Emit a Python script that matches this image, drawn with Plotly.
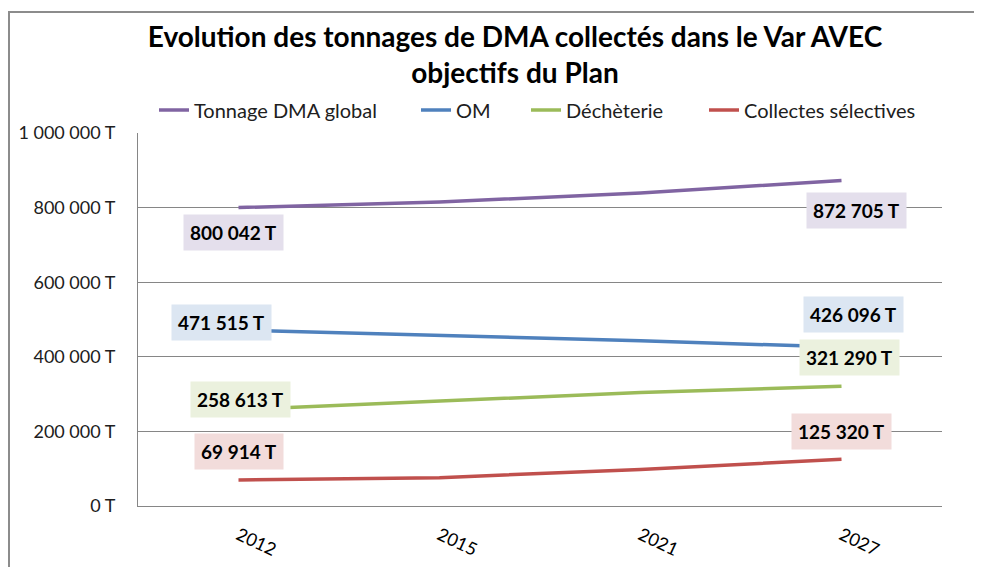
import plotly.graph_objects as go

years = ["2012", "2015", "2021", "2027"]
series_names = ["Tonnage DMA global", "OM", "Déchèterie", "Collectes sélectives"]
global_vals = [800042, 815000, 839000, 872705]
om_vals = [471515, 457000, 443000, 426096]
dech_vals = [258613, 281000, 304000, 321290]
cs_vals = [69914, 76000, 98000, 125320]
y_tickvals = [0, 200000, 400000, 600000, 800000, 1000000]
y_ticktext = ["0 T", "200 000 T", "400 000 T", "600 000 T", "800 000 T", "1 000 000 T"]

colors = ["#8064a2", "#4f81bd", "#9bbb59", "#c0504d"]
label_bg = ["#e4dfec", "#dce6f2", "#ebf1de", "#f2dcdb"]
all_vals = [global_vals, om_vals, dech_vals, cs_vals]

FONT = "Lato, 'Open Sans', sans-serif"

# page body has an 8px margin: work in page pixels and shift
OFF = 8
W, H = 982 - 2 * OFF, 575 - 2 * OFF
PL, PR, PT, PB = 138 - OFF, 942 - OFF, 133 - OFF, 506 - OFF   # plot area in figure px
PW, PH = PR - PL, PB - PT


def px_x(x):  # page x -> paper
    return (x - OFF - PL) / PW


def px_y(y):  # page y -> paper
    return (PB - (y - OFF)) / PH


legend_names = ["legend", "legend2", "legend3", "legend4"]
legend_x_page = [154, 416, 526, 704]

fig = go.Figure()
for name, vals, c, lg in zip(series_names, all_vals, colors, legend_names):
    fig.add_trace(go.Scatter(x=years, y=vals, mode="lines", name=name, legend=lg,
                             showlegend=True, line=dict(color=c, width=3.5)))


def fmt(v):
    return f"{v:,}".replace(",", " ") + " T"


first_shift = [(-5, -25), (-17, 8), (2, 10), (0, 28)]
last_shift = [(15, -30), (12, 33), (8, 29), (0, 28)]
annotations = []
for i, vals in enumerate(all_vals):
    for idx, sh in ((0, first_shift[i]), (3, last_shift[i])):
        annotations.append(dict(x=idx, y=vals[idx], xref="x", yref="y",
                                text="<b>" + fmt(vals[idx]) + "</b>", showarrow=False,
                                xanchor="center", yanchor="middle",
                                xshift=sh[0], yshift=sh[1], bgcolor=label_bg[i],
                                borderpad=6, font=dict(family=FONT, size=19, color="black")))

legend_layouts = {}
for lg, xp in zip(legend_names, legend_x_page):
    legend_layouts[lg] = dict(orientation="h", xref="paper", x=px_x(xp), xanchor="left",
                              yref="paper", y=px_y(110), yanchor="middle",
                              font=dict(family=FONT, size=20, color="#202020"),
                              bgcolor="rgba(0,0,0,0)", borderwidth=0)

fig.update_layout(
    width=W, height=H, showlegend=True,
    margin=dict(l=PL, r=W - PR, t=PT, b=H - PB, pad=0, autoexpand=False),
    paper_bgcolor="white", plot_bgcolor="white",
    font=dict(family=FONT, color="black"),
    title=dict(text="<b>Evolution des tonnages de DMA collectés dans le Var AVEC<br>objectifs du Plan</b>",
               xref="container", x=(515 - OFF) / W, xanchor="center", yref="container",
               y=1 - 39 / H, yanchor="top",
               font=dict(family=FONT, size=28, color="black")),
    xaxis=dict(type="category", range=[-0.5, 3.5], showgrid=False, showline=True,
               linecolor="#868686", linewidth=1, ticks="", tickangle=25, automargin=False,
               tickfont=dict(family=FONT, size=18, color="black"), ticklabelstandoff=11),
    yaxis=dict(range=[0, 1000000], tickvals=y_tickvals, ticktext=y_ticktext,
               showgrid=True, gridcolor="#868686", gridwidth=1, showline=True,
               linecolor="#868686", linewidth=1, ticks="", zeroline=False, automargin=False,
               tickfont=dict(family=FONT, size=18, color="#202020"), ticklabelstandoff=18),
    annotations=annotations,
    shapes=[dict(type="rect", xref="paper", yref="paper",
                 x0=px_x(9), x1=px_x(1000), y0=px_y(600), y1=px_y(12),
                 line=dict(color="#8c8c8c", width=2), fillcolor="rgba(0,0,0,0)", layer="below")],
    **legend_layouts,
)

fig.write_html("out.html")
